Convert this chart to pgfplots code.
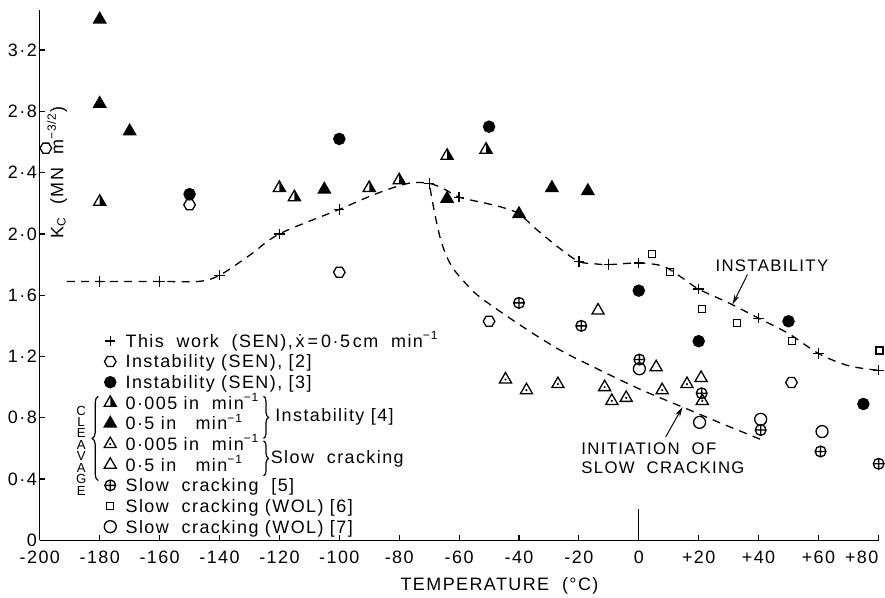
\documentclass[border=0pt]{standalone}
\usepackage{pgfplots}
\pgfplotsset{compat=1.18}
\usepackage{fontspec}
\setmainfont{Liberation Sans}
\newfontfamily\legfont{Liberation Sans}[LetterSpace=8]
\usetikzlibrary{decorations.pathreplacing, arrows.meta}

% plot marks used for the data sets
\pgfdeclareplotmark{tri}{%
  \pgfpathmoveto{\pgfqpoint{0pt}{\pgfplotmarksize}}%
  \pgfpathlineto{\pgfqpoint{0.866\pgfplotmarksize}{-0.5\pgfplotmarksize}}%
  \pgfpathlineto{\pgfqpoint{-0.866\pgfplotmarksize}{-0.5\pgfplotmarksize}}%
  \pgfpathclose\pgfusepathqstroke}
\pgfdeclareplotmark{tri*}{%
  \pgfpathmoveto{\pgfqpoint{0pt}{\pgfplotmarksize}}%
  \pgfpathlineto{\pgfqpoint{0.866\pgfplotmarksize}{-0.5\pgfplotmarksize}}%
  \pgfpathlineto{\pgfqpoint{-0.866\pgfplotmarksize}{-0.5\pgfplotmarksize}}%
  \pgfpathclose\pgfusepathqfillstroke}
\pgfdeclareplotmark{halftri}{%
  \pgfpathmoveto{\pgfqpoint{0pt}{\pgfplotmarksize}}%
  \pgfpathlineto{\pgfqpoint{0.866\pgfplotmarksize}{-0.5\pgfplotmarksize}}%
  \pgfpathlineto{\pgfqpoint{0pt}{-0.5\pgfplotmarksize}}%
  \pgfpathclose\pgfusepathqfill
  \pgfpathmoveto{\pgfqpoint{0pt}{\pgfplotmarksize}}%
  \pgfpathlineto{\pgfqpoint{0.866\pgfplotmarksize}{-0.5\pgfplotmarksize}}%
  \pgfpathlineto{\pgfqpoint{-0.866\pgfplotmarksize}{-0.5\pgfplotmarksize}}%
  \pgfpathclose\pgfusepathqstroke}
\pgfdeclareplotmark{dottri}{%
  \pgfpathmoveto{\pgfqpoint{0pt}{\pgfplotmarksize}}%
  \pgfpathlineto{\pgfqpoint{0.866\pgfplotmarksize}{-0.5\pgfplotmarksize}}%
  \pgfpathlineto{\pgfqpoint{-0.866\pgfplotmarksize}{-0.5\pgfplotmarksize}}%
  \pgfpathclose\pgfusepathqstroke
  \pgfpathcircle{\pgfpointorigin}{0.17\pgfplotmarksize}\pgfusepathqfill}
\pgfdeclareplotmark{hexagon}{%
  \pgfpathmoveto{\pgfqpointpolar{0}{\pgfplotmarksize}}%
  \pgfpathlineto{\pgfqpointpolar{60}{\pgfplotmarksize}}%
  \pgfpathlineto{\pgfqpointpolar{120}{\pgfplotmarksize}}%
  \pgfpathlineto{\pgfqpointpolar{180}{\pgfplotmarksize}}%
  \pgfpathlineto{\pgfqpointpolar{240}{\pgfplotmarksize}}%
  \pgfpathlineto{\pgfqpointpolar{300}{\pgfplotmarksize}}%
  \pgfpathclose\pgfusepathqstroke}
\pgfdeclareplotmark{ocirc}{%
  \pgfpathcircle{\pgfpointorigin}{\pgfplotmarksize}\pgfusepathqstroke}
\pgfdeclareplotmark{osquare}{%
  \pgfpathrectangle{\pgfqpoint{-\pgfplotmarksize}{-\pgfplotmarksize}}%
    {\pgfqpoint{2\pgfplotmarksize}{2\pgfplotmarksize}}\pgfusepathqstroke}
\pgfdeclareplotmark{ocross}{%
  \pgfpathcircle{\pgfpointorigin}{\pgfplotmarksize}%
  \pgfpathmoveto{\pgfqpoint{-\pgfplotmarksize}{0pt}}%
  \pgfpathlineto{\pgfqpoint{\pgfplotmarksize}{0pt}}%
  \pgfpathmoveto{\pgfqpoint{0pt}{-\pgfplotmarksize}}%
  \pgfpathlineto{\pgfqpoint{0pt}{\pgfplotmarksize}}%
  \pgfusepathqstroke}

\pgfplotsset{
  dat/.style={only marks, black, line width=0.65pt,
    mark options={solid, fill=black},
    legend image code/.code={\draw[##1] plot coordinates {(0pt,0pt)};}},
  curve/.style={forget plot, smooth, tension=0.55, black, line width=0.65pt,
    dash pattern=on 4pt off 3.2pt, mark=none},
}

\begin{document}
\begin{tikzpicture}
\begin{axis}[
  scale only axis, width=421pt, height=265.85pt,
  xmin=-200, xmax=80.3, ymin=0, ymax=3.46,
  axis x line=bottom, axis y line=left,
  axis line style={-, line width=0.65pt},
  xtick align=inside, ytick align=inside, major tick length=2.6pt,
  tick style={black, line width=0.6pt},
  xtick={-200,-180,-160,-140,-120,-100,-80,-60,-40,-20,0,20,40,60,80},
  xticklabels={-200,-180,-160,-140,-120,-100,-80,-60,-40,-20,0,+20,+40,+60,\hbox to 0pt{\hss+80}},
  ytick={0,0.4,0.8,1.2,1.6,2.0,2.4,2.8,3.2},
  yticklabels={0,0·4,0·8,1·2,1·6,2·0,2·4,2·8,3·2},
  ticklabel style={font=\legfont\fontsize{9}{10}\selectfont},
  xticklabel shift=2pt, yticklabel shift=-2pt,
  clip=false,
  legend cell align=left,
  legend style={at={(axis cs:-178.5,1.369)}, anchor=north west,
    draw=none, fill=none, inner sep=0pt, outer sep=0pt,
    row sep=0pt, column sep=4.7pt,
    font=\legfont\fontsize{9}{10}\selectfont,
    nodes={inner sep=0pt, text height=8.4pt, text depth=1.95pt}},
]

% fitted curves
\addplot[curve] coordinates {
  (-191,1.69) (-180,1.69) (-160,1.69) (-147,1.69) (-140,1.73) (-130,1.86)
  (-120,2.00) (-100,2.16) (-88,2.26) (-77,2.33) (-70,2.33) (-64.7,2.29)
  (-60,2.24) (-51,2.20) (-45,2.17) (-40,2.13) (-33.6,2.02) (-26,1.90)
  (-20,1.82) (-14.7,1.805) (-10,1.80) (0,1.81) (8,1.79) (14,1.72)
  (20,1.64) (30,1.55) (40,1.45) (50,1.35) (60,1.22) (70,1.14) (80,1.11)};
\addplot[curve] coordinates {
  (-69.7,2.30) (-68,2.12) (-65.8,1.94) (-62.5,1.79) (-57,1.66) (-52.5,1.58)
  (-40,1.41) (-27,1.25) (-16,1.14) (0,0.99) (14.6,0.87) (28,0.76) (41.8,0.65)};
\addplot[forget plot, black, line width=0.6pt] coordinates {(0,0) (0,0.206)};

% This work (SEN)
\addplot[dat, mark=+, mark size=2.6pt] coordinates {
  (-180,1.69) (-160,1.69) (-140,1.73) (-120,2.00) (-100,2.16) (-70,2.33)
  (-60,2.24) (-20,1.82) (-10,1.80) (0,1.81) (20,1.64) (40,1.45) (60,1.22) (80,1.11)};
\addlegendentry{This\ \ work\ \ (SEN),\,\.{x}\,=\,0·5\,cm\ \ min\textsuperscript{−1}}

% Instability (SEN) [2]
\addplot[dat, mark=hexagon, mark size=2.9pt] coordinates {
  (-198,2.56) (-150,2.19) (-100,1.75) (-50,1.43) (51,1.03)};
\addlegendentry{Instability (SEN), [2]}

% Instability (SEN) [3]
\addplot[dat, mark=*, mark size=2.8pt] coordinates {
  (-150,2.26) (-100,2.62) (-50,2.70) (0,1.63) (20,1.30) (50,1.43) (75,0.89)};
\addlegendentry{Instability (SEN), [3]}

% cleavage, instability, 0.005 in/min
\addplot[dat, mark=halftri, mark size=3.5pt] coordinates {
  (-180,2.21) (-120,2.30) (-115,2.24) (-90,2.30) (-80,2.35) (-64,2.51) (-51,2.55)};
\addlegendentry{0·005 in\ \ min\textsuperscript{−1}}

% cleavage, instability, 0.5 in/min
\addplot[dat, mark=tri*, mark size=3.5pt] coordinates {
  (-180,3.40) (-180,2.85) (-170,2.67) (-105,2.29) (-64,2.23) (-40,2.13)
  (-29,2.30) (-17,2.28)};
\addlegendentry{0·5 in\ \ \ min\textsuperscript{−1}}

% cleavage, slow cracking, 0.005 in/min
\addplot[dat, mark=dottri, mark size=3.5pt] coordinates {
  (-44.5,1.05) (-37.5,0.98) (-27,1.02) (-11.4,1.00) (-9,0.91) (-4.2,0.93)
  (7.8,0.98) (16.1,1.02) (21.2,0.91)};
\addlegendentry{0·005 in\ \ min\textsuperscript{−1}}

% cleavage, slow cracking, 0.5 in/min
\addplot[dat, mark=tri, mark size=3.5pt] coordinates {
  (-13.6,1.50) (5.8,1.13) (20.8,1.06)};
\addlegendentry{0·5 in\ \ \ min\textsuperscript{−1}}

% Slow cracking [5]
\addplot[dat, mark=ocross, mark size=2.7pt] coordinates {
  (-40,1.55) (-19.2,1.40) (0.2,1.18) (21,0.96) (40.7,0.72) (60.7,0.58) (80.1,0.50)};
\addlegendentry{Slow\ \ cracking\ \ [5]}

% Slow cracking (WOL) [6]
\addplot[dat, mark=osquare, mark size=1.75pt] coordinates {
  (4.4,1.87) (10.5,1.75) (21.1,1.51) (32.7,1.42) (51.2,1.30) (80.4,1.24)};
\addlegendentry{Slow\ \ cracking (WOL) [6]}

% Slow cracking (WOL) [7]
\addplot[dat, mark=ocirc, mark size=3pt] coordinates {
  (0.2,1.12) (20.3,0.77) (40.7,0.79) (61.2,0.71)};
\addlegendentry{Slow\ \ cracking (WOL) [7]}

% grouping braces of the legend
\draw[decorate, decoration={brace, amplitude=2.5pt}, line width=0.6pt]
  (axis cs:-125.3,0.94) -- (axis cs:-125.3,0.665);
\draw[decorate, decoration={brace, amplitude=2.5pt}, line width=0.6pt]
  (axis cs:-125.3,0.65) -- (axis cs:-125.3,0.42);
\draw[decorate, decoration={brace, amplitude=3pt}, line width=0.6pt]
  (axis cs:-180.5,0.39) -- (axis cs:-180.5,0.94);
\node[anchor=west, font=\legfont\fontsize{9}{10}\selectfont, inner sep=0pt]
  at (axis cs:-121.5,0.805) {Instability [4]};
\node[anchor=west, font=\legfont\fontsize{9}{10}\selectfont, inner sep=0pt]
  at (axis cs:-123,0.532) {Slow\ \ cracking};
\node[font=\fontsize{6.6}{5.75}\selectfont, align=center, inner sep=0pt]
  at (axis cs:-186.2,0.586) {C\\L\\E\\A\\V\\A\\G\\E};

% axis titles
\node[rotate=90, font=\legfont\fontsize{9}{10}\selectfont, inner sep=0pt]
  at (axis cs:-194.2,2.40) {K\textsubscript{C}\ \ (MN\ \ m\textsuperscript{−3/2})};
\node[font=\legfont\fontsize{9}{10}\selectfont, inner sep=0pt]
  at (axis cs:-46.5,-0.30) {TEMPERATURE\ \ (°C)};

% curve annotations
\node[anchor=west, font=\legfont\fontsize{8.4}{10}\selectfont, inner sep=0pt]
  at (axis cs:25.5,1.795) {INSTABILITY};
\draw[-{Stealth[length=5pt, width=2.6pt]}, line width=0.5pt]
  (axis cs:36.3,1.736) -- (axis cs:31.3,1.54);
\node[anchor=west, font=\legfont\fontsize{8.4}{9.4}\selectfont, inner sep=0pt, align=left]
  at (axis cs:-19.3,0.535) {INITIATION\ \ OF\\SLOW\ \ CRACKING};
\draw[-{Stealth[length=5pt, width=2.6pt]}, line width=0.5pt]
  (axis cs:9,0.675) -- (axis cs:14.6,0.87);

% page extent
\path (axis cs:-213.3,-0.373) rectangle (axis cs:81.2,3.527);
\end{axis}
\end{tikzpicture}
\end{document}
